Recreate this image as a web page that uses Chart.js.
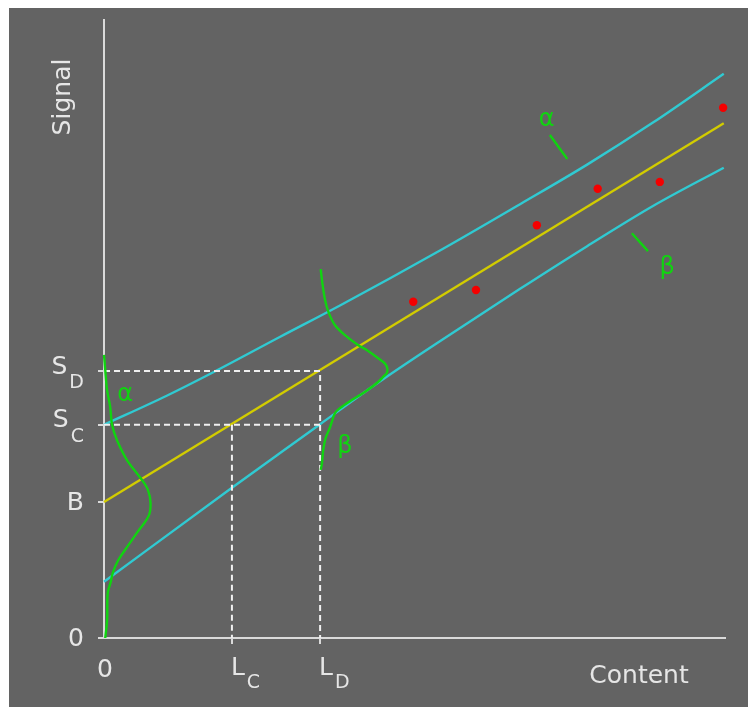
<!DOCTYPE html>
<html>
<head>
<meta charset="utf-8">
<script src="https://cdn.jsdelivr.net/npm/chart.js@4/dist/chart.umd.min.js"></script>
<style>
  html, body { margin: 0; padding: 0; background: #ffffff; }
  #wrap { position: absolute; left: 9px; top: 8px; width: 739px; height: 699px; background: #636363; }
  canvas { display: block; }
</style>
</head>
<body>
<div id="wrap"><canvas id="chart" width="739" height="699"></canvas></div>
<script>
// Characteristic levels (signal) and limits (content)
const B  = 22.0;   // blank signal
const SC = 34.5;   // critical signal
const SD = 43.2;   // detection signal
const LC = 20.6;   // critical content
const LD = 34.8;   // detection limit

// Axis tick values and their labels [main, subscript]
const xTickValues = [0, LC, LD];
const xTickLabels = [['0', ''], ['L', 'C'], ['L', 'D']];
const yTickValues = [0, B, SC, SD];
const yTickLabels = [['0', ''], ['B', ''], ['S', 'C'], ['S', 'D']];

// Calibration line
const calibX = [0, 99.8];
const calibY = [B, 83.3];

// Confidence band, upper and lower
const upperX = [0, 10.1, 17.6, 28.3, 38.0, 54.1, 67.0, 77.8, 88.4, 99.8];
const upperY = [SC, 39.2, 43.0, 48.7, 53.8, 62.7, 70.2, 76.6, 83.4, 91.3];
const lowerX = [0, 20.6, 28.3, 34.8, 44.4, 53.6, 67.0, 77.8, 88.4, 99.8];
const lowerY = [9.1, 24.3, 29.9, 34.6, 41.5, 47.7, 56.5, 63.4, 69.9, 76.1];

// Calibration standards
const stdX = [49.8, 59.9, 69.7, 79.5, 89.5, 99.7];
const stdY = [54.4, 56.3, 66.8, 72.7, 73.8, 85.8];

// Distribution of the blank signal (along the signal axis)
const blankBellX = [0, 0.2, 0.5, 1.0, 1.3, 2.1, 3.7, 6.1, 7.1, 7.5, 7.2, 5.3, 3.7, 2.3, 1.4, 1.1, 0.6, 0.5, 0.2];
const blankBellY = [45.8, 43.4, 40.1, 37.4, 34.5, 32.0, 28.8, 25.6, 23.9, 21.8, 19.8, 17.0, 14.7, 12.6, 10.5, 9.1, 7.3, 2.9, 0];

// Distribution of the signal at the detection limit
const limitBellX = [34.9, 35.1, 35.6, 36.2, 37.2, 38.8, 40.9, 42.3, 44.1, 45.4, 45.6, 44.9, 44.0, 42.0, 39.9, 38.0, 37.2, 36.4, 35.7, 35.3, 35.1, 34.9];
const limitBellY = [59.7, 57.9, 54.7, 52.6, 50.6, 49.0, 47.4, 46.6, 45.3, 44.2, 43.0, 42.2, 41.3, 39.8, 38.5, 37.2, 36.4, 34.1, 32.4, 30.4, 28.3, 27.2];

// Leader strokes for the band labels
const alphaMarkX = [71.8, 74.6];
const alphaMarkY = [81.4, 77.5];
const betaMarkX = [85.0, 87.6];
const betaMarkY = [65.5, 62.6];

// Greek labels: text, x, y
const greekText = ['α', 'β', 'α', 'β'];
const greekX = [71.3, 90.7, 3.4, 38.8];
const greekY = [83.8, 59.9, 39.3, 30.9];

const AXIS = '#dadada';
const TEXT = '#e6e6e6';
const CYAN = '#30cad2';
const YELLOW = '#d2cc00';
const GREEN = '#10d410';
const RED = '#f40000';
const GUIDE = '#f0f0f0';

const FONT_FAMILY = '"DejaVu Sans", "Liberation Sans", sans-serif';
const MAIN_FONT = '25px ' + FONT_FAMILY;
const SUB_FONT = '19px ' + FONT_FAMILY;

const zip = (xs, ys) => xs.map((x, i) => ({ x: x, y: ys[i] }));

function lineSet(data, color, extra) {
  return Object.assign({
    data: data,
    showLine: true,
    borderColor: color,
    backgroundColor: color,
    borderWidth: 2.4,
    pointRadius: 0,
    fill: false,
    clip: false
  }, extra || {});
}

function drawComposite(ctx, main, sub, px, py, align, subDy) {
  ctx.font = MAIN_FONT;
  const wm = ctx.measureText(main).width;
  ctx.font = SUB_FONT;
  const ws = sub ? ctx.measureText(sub).width : 0;
  const gap = sub ? 2 : 0;
  const total = wm + gap + ws;
  let start = px;
  if (align === 'right') start = px - total;
  else if (align === 'center') start = px - total / 2;
  ctx.textAlign = 'left';
  ctx.font = MAIN_FONT;
  ctx.fillText(main, start, py);
  if (sub) {
    ctx.font = SUB_FONT;
    ctx.fillText(sub, start + wm + gap, py + subDy);
  }
}

const textPlugin = {
  id: 'annotationText',
  afterDraw(chart) {
    const { ctx, chartArea: a } = chart;
    const xs = chart.scales.x, ys = chart.scales.y;
    ctx.save();
    ctx.fillStyle = TEXT;
    ctx.textBaseline = 'middle';

    // signal-axis labels
    yTickValues.forEach((v, i) => {
      const [main, sub] = yTickLabels[i];
      const py = ys.getPixelForValue(v) + (sub ? -4 : 1);
      drawComposite(ctx, main, sub, a.left - 20, py, 'right', 16);
    });

    // content-axis labels
    xTickValues.forEach((v, i) => {
      const [main, sub] = xTickLabels[i];
      const px = xs.getPixelForValue(v);
      if (sub) drawComposite(ctx, main, sub, px - 1, a.bottom + 30, 'left', 15);
      else drawComposite(ctx, main, sub, px + 1, a.bottom + 32, 'center', 0);
    });

    // axis titles
    ctx.font = MAIN_FONT;
    ctx.textAlign = 'center';
    ctx.fillText('Content', a.right - 86, a.bottom + 38);
    ctx.save();
    ctx.translate(a.left - 41, a.top + 77);
    ctx.rotate(-Math.PI / 2);
    ctx.fillText('Signal', 0, 0);
    ctx.restore();

    // greek labels
    ctx.fillStyle = GREEN;
    ctx.font = '24px ' + FONT_FAMILY;
    ctx.textAlign = 'center';
    greekText.forEach((t, i) => {
      ctx.fillText(t, xs.getPixelForValue(greekX[i]), ys.getPixelForValue(greekY[i]));
    });
    ctx.restore();
  }
};

new Chart(document.getElementById('chart'), {
  type: 'scatter',
  data: {
    datasets: [
      { data: zip(stdX, stdY), pointRadius: 4.2, pointBackgroundColor: RED, pointBorderWidth: 0, showLine: false, clip: false },
      lineSet(zip(blankBellX, blankBellY), GREEN, { tension: 0.35 }),
      lineSet(zip(limitBellX, limitBellY), GREEN, { tension: 0.35 }),
      lineSet(zip(alphaMarkX, alphaMarkY), GREEN),
      lineSet(zip(betaMarkX, betaMarkY), GREEN),
      lineSet([{ x: 0, y: SD }, { x: LD, y: SD }, { x: LD, y: 0 }], GUIDE, { borderDash: [6, 4], borderWidth: 2 }),
      lineSet([{ x: 0, y: SC }, { x: LD, y: SC }], GUIDE, { borderDash: [6, 4], borderWidth: 2 }),
      lineSet([{ x: LC, y: SC }, { x: LC, y: 0 }], GUIDE, { borderDash: [6, 4], borderWidth: 2 }),
      lineSet(zip(calibX, calibY), YELLOW),
      lineSet(zip(upperX, upperY), CYAN, { cubicInterpolationMode: 'monotone' }),
      lineSet(zip(lowerX, lowerY), CYAN, { cubicInterpolationMode: 'monotone' })
    ]
  },
  options: {
    responsive: false,
    animation: false,
    devicePixelRatio: 1,
    layout: { padding: { top: 12, right: 23, left: 0, bottom: 0 } },
    plugins: { legend: { display: false }, tooltip: { enabled: false } },
    scales: {
      x: {
        type: 'linear', min: 0, max: 100,
        afterBuildTicks: s => { s.ticks = xTickValues.map(v => ({ value: v })); },
        afterFit: s => { s.height = 69; },
        ticks: { display: false },
        grid: {
          drawOnChartArea: false, drawTicks: true, tickLength: 6, lineWidth: 2,
          color: c => (c.tick && c.tick.value === 0) ? 'rgba(0,0,0,0)' : AXIS
        },
        border: { display: true, color: AXIS, width: 2 }
      },
      y: {
        type: 'linear', min: 0, max: 100,
        afterBuildTicks: s => { s.ticks = yTickValues.map(v => ({ value: v })); },
        afterFit: s => { s.width = 95; },
        ticks: { display: false },
        grid: { drawOnChartArea: false, drawTicks: true, tickLength: 6, lineWidth: 2, color: AXIS },
        border: { display: true, color: AXIS, width: 2 }
      }
    }
  },
  plugins: [textPlugin]
});
</script>
</body>
</html>
